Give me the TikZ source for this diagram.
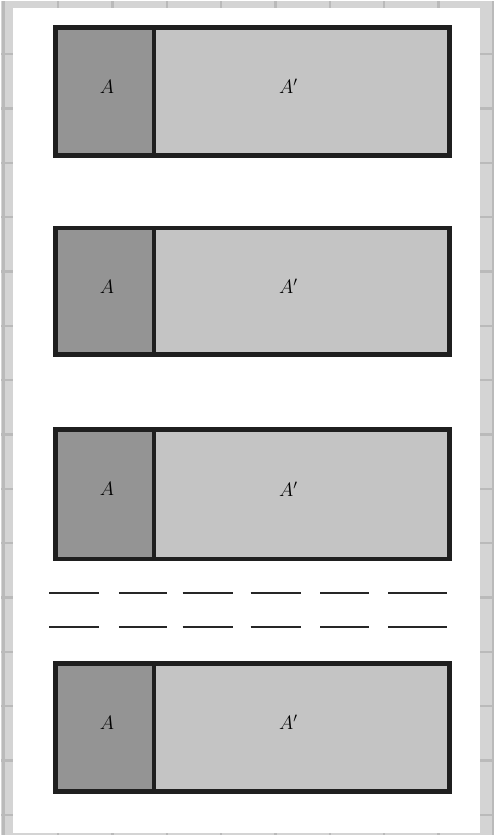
\documentclass[tikz,border=0pt]{standalone}
\usepackage{amsmath}
\usetikzlibrary{positioning}

\begin{document}
\begin{tikzpicture}[
    x=1pt, y=-1pt,
    every node/.style={font=\Large, scale=1.35},
    frameline/.style={line width=4.8pt, draw=black!88},
    splitline/.style={line width=4pt, draw=black!88},
    darkpart/.style={fill=black!42},
    lightpart/.style={fill=black!23},
    gapdash/.style={line width=2pt, draw=black!85},
]
    % ── Sheet and grid margin ─────────────────────
    \fill[black!17] (0,0) rectangle (492,836);
    \foreach \g in {0,...,9}
        \draw[black!27, line width=2.5pt] ({2.5+54.5*\g},0) -- ({2.5+54.5*\g},836);
    \foreach \g in {1,...,15}
        \draw[black!27, line width=2.5pt] (0,{-1.5+54.5*\g}) -- (492,{-1.5+54.5*\g});
    \fill[white] (12,7) rectangle (480,834);

    % ── Split boxes ───────────────────────────────
    \def\xl{54.5}   % left border
    \def\xm{153}    % divider
    \def\xr{449.5}  % right border
    \foreach \top/\bot/\name in {26.5/154.5/one, 227.5/354.5/two,
                                 429.5/559.5/three, 664.5/792.5/four} {
        \fill[darkpart] (\xl,\top) rectangle (\xm,\bot);
        \fill[lightpart] (\xm,\top) rectangle (\xr,\bot);
        \draw[frameline] (\xl,\top) rectangle (\xr,\bot);
        \draw[splitline] (\xm,\top) -- (\xm,\bot);
        \node (A\name) at (106,{(\top+\bot)/2-5}) {$A$};
        \node (Ap\name) at (288,{(\top+\bot)/2-5}) {$A^{\prime}$};
    }

    % ── Omitted rows ──────────────────────────────
    \foreach \yy in {594, 628}
        \foreach \xa/\xb in {48/98, 118/166, 182/232, 250/301, 320/369, 388/447}
            \draw[gapdash] (\xa,\yy) -- (\xb,\yy);
\end{tikzpicture}
\end{document}
